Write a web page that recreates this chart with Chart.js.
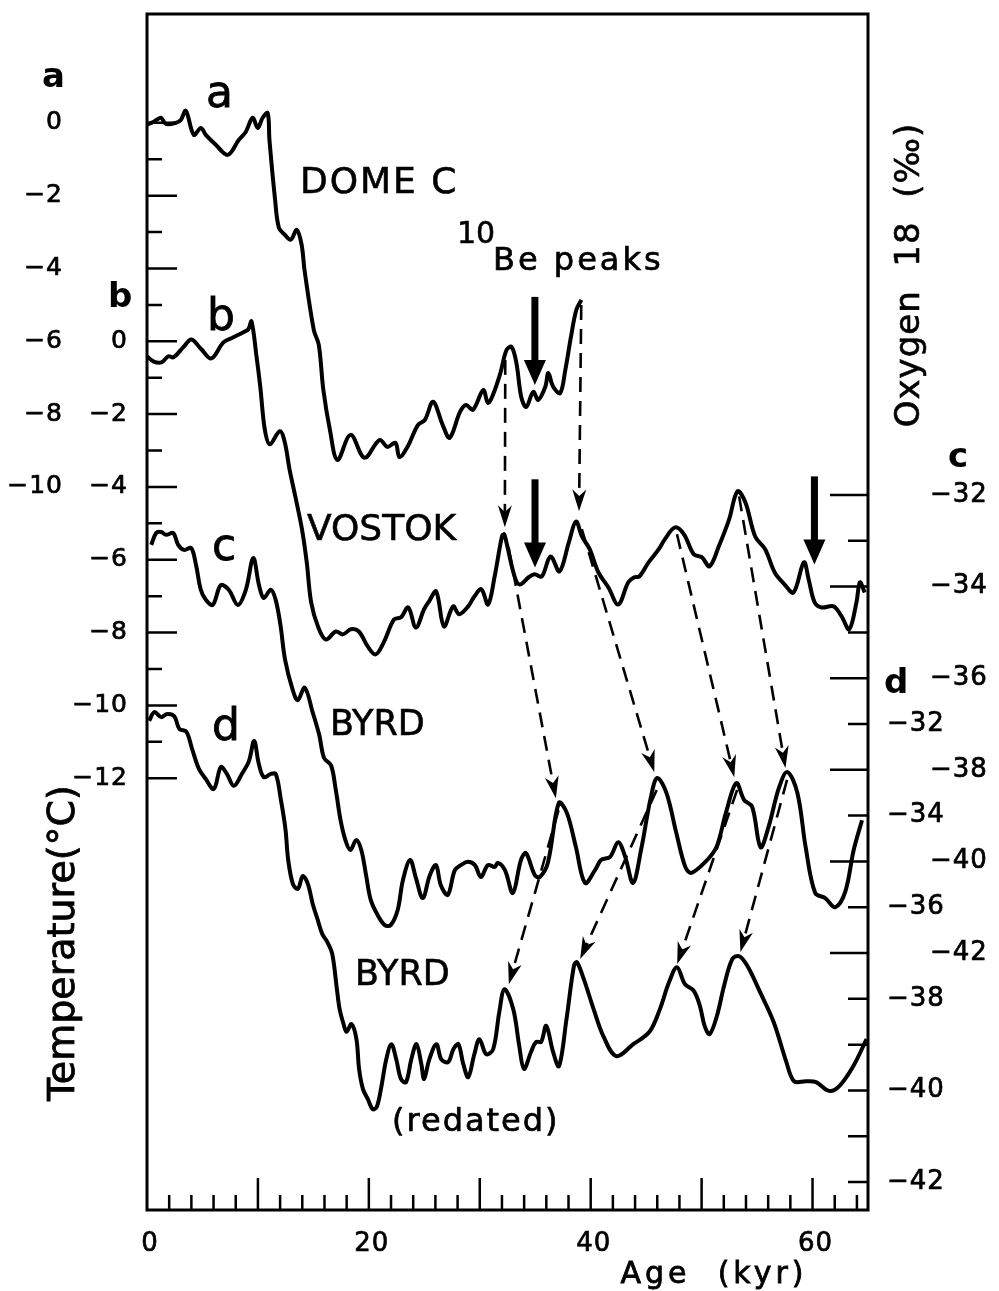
<!DOCTYPE html>
<html>
<head>
<meta charset="utf-8">
<script src="https://cdn.jsdelivr.net/npm/chart.js@4.4.1/dist/chart.umd.min.js"></script>
<style>
  body { margin: 0; background: #fff; }
  canvas { display: block; }
</style>
</head>
<body>
<canvas id="c" width="999" height="1291"></canvas>
<script>
// Dome C (a): temperature anomaly, degC
const domeAge = [0, 0.61, 1.25, 1.7, 2.6, 3.05, 3.5, 4.22, 4.85, 5.3,
  6.2, 7.28, 8.27, 8.9, 9.53, 9.98, 10.43, 10.88, 11.04, 11.55,
  11.89, 12.42, 12.96, 13.5, 13.94, 14.2, 15.04, 15.49, 15.9, 16.49,
  17.17, 18.35, 19.61, 20.96, 21.68, 22.4, 22.76, 23.48, 24.42, 25.05,
  25.79, 26.66, 27.29, 28.22, 28.76, 29.39, 30.31, 30.74, 31.19, 31.86,
  32.41, 32.86, 33.3, 33.74, 34.19, 34.82, 35.27, 35.91, 36.18, 36.62,
  37.25, 37.71, 38.22, 38.7, 39.16];
const domeTemp = [-0.05, 0.03, 0.14, -0.03, 0, 0.08, 0.33, -0.33, -0.14, -0.33,
  -0.6, -0.88, -0.47, -0.25, 0.14, -0.14, 0.14, 0.27, -0.47, -2.12,
  -2.88, -3.07, -3.21, -2.94, -3.35, -4.04, -5.69, -6.1, -7.34, -8.43,
  -9.26, -8.57, -9.2, -8.71, -8.9, -8.79, -9.18, -8.9, -8.3, -8.16,
  -7.66, -8.3, -8.65, -7.94, -7.75, -7.88, -7.34, -7.69, -7.47, -6.87,
  -6.24, -6.15, -6.59, -7.53, -7.8, -7.39, -7.61, -7.25, -6.87, -7.25,
  -7.42, -6.79, -5.88, -5.14, -4.86];

// Vostok (b): temperature anomaly, degC
const vostokAge = [0, 0.57, 1.3, 1.93, 2.38, 3.28, 4.0, 4.9, 5.8, 6.89,
  7.79, 8.69, 9.14, 9.42, 9.87, 10.21, 10.62, 11.07, 11.97, 12.42,
  12.85, 13.37, 13.97, 14.4, 14.8, 15.41, 16.12, 17.03, 17.66, 18.38,
  19.1, 19.9, 20.61, 21.34, 22.27, 22.9, 23.55, 24.24, 24.98, 25.43,
  26.07, 26.77, 27.6, 28.14, 28.96, 29.51, 30.14, 30.75, 31.34, 32.0,
  32.2, 32.4, 33.14, 33.6, 34.41, 34.95, 35.59, 36.38, 37.19, 38.03,
  38.67, 39.21, 39.91, 40.7, 41.6, 42.48, 43.39, 43.93, 44.38, 45.22,
  46.14, 46.68, 47.6, 48.41, 49.29, 50.01, 50.72, 51.55, 52.48, 53.23,
  53.94, 54.83, 55.73, 56.59, 57.49, 58.29, 59.22, 59.65, 60.19, 60.82,
  61.9, 62.61, 63.31, 63.96, 64.27, 64.7];
const vostokTemp = [-0.41, -0.55, -0.58, -0.41, -0.44, -0.16, 0.05, -0.22, -0.47, -0.03,
  0.11, 0.25, 0.33, 0.55, -0.41, -1.24, -2.42, -2.83, -2.47, -2.77,
  -3.52, -4.26, -5.16, -6.07, -7.17, -7.83, -8.19, -7.97, -8.05, -7.91,
  -7.97, -8.38, -8.6, -8.27, -7.64, -7.58, -7.31, -7.86, -7.36, -7.14,
  -6.87, -7.83, -7.28, -7.5, -7.28, -7.01, -6.81, -7.23, -6.46, -5.36,
  -5.3, -5.52, -6.46, -6.68, -6.48, -6.4, -6.46, -5.91, -6.32, -5.52,
  -4.95, -5.36, -5.71, -6.35, -6.76, -7.23, -6.62, -6.48, -6.46, -6.07,
  -5.71, -5.44, -5.11, -5.3, -5.85, -5.93, -6.18, -5.63, -4.89, -4.12,
  -4.42, -5.36, -5.71, -6.35, -6.68, -6.9, -6.07, -6.54, -7.17, -7.31,
  -7.28, -7.55, -7.91, -7.17, -6.62, -6.9];

// Byrd (c): oxygen 18, permil
const byrdAge = [0.38, 0.83, 1.28, 1.73, 2.36, 2.81, 3.35, 3.98, 4.42, 4.85,
  5.3, 5.93, 6.65, 7.37, 8.19, 8.91, 9.58, 10.1, 10.52, 11.16,
  11.6, 12.03, 12.45, 13.14, 13.59, 14.22, 14.93, 15.53, 15.96, 16.59,
  17.02, 17.45, 17.88, 18.33, 18.87, 19.32, 19.75, 20.17, 20.79, 21.43,
  21.97, 22.6, 23.07, 23.72, 24.24, 24.86, 25.5, 26.05, 26.49, 27.12,
  27.75, 28.3, 28.93, 29.56, 30.1, 30.73, 31.36, 31.63, 32.27, 32.98,
  33.71, 34.16, 34.97, 35.42, 36.14, 37.13, 37.85, 38.66, 39.49, 40.39,
  40.93, 41.75, 42.48, 43.11, 43.82, 44.54, 45.43, 46.0, 46.82, 47.72,
  48.53, 49.07, 50.34, 51.33, 52.19, 53.12, 53.84, 54.56, 55.31, 56.03,
  56.99, 57.73, 58.63, 59.38, 60.24, 61.14, 62.04, 62.94, 63.71, 64.46];
const byrdO18 = [-33.09, -32.83, -32.81, -32.87, -32.83, -33.09, -33.2, -33.16, -33.53, -34.07,
  -34.29, -34.4, -33.97, -34.07, -34.4, -34.07, -33.38, -33.97, -34.25, -34.07,
  -34.29, -34.84, -35.6, -36.26, -36.48, -36.21, -36.74, -37.24, -37.74, -37.9,
  -38.44, -39.1, -39.53, -39.75, -39.53, -39.75, -40.3, -40.84, -41.17, -41.39,
  -41.39, -41.06, -40.41, -39.97, -40.36, -40.8, -40.3, -40.08, -40.52, -40.73,
  -40.19, -40.08, -40.01, -40.08, -40.34, -40.08, -40.12, -40.03, -40.19, -40.69,
  -39.97, -39.82, -40.3, -40.34, -40.03, -38.72, -38.94, -39.68, -40.47, -40.19,
  -39.97, -39.9, -39.58, -39.9, -40.47, -39.75, -38.59, -38.18, -38.5, -39.38,
  -40.12, -40.25, -40.01, -39.69, -38.94, -38.29, -38.66, -38.81, -39.69, -39.25,
  -38.38, -38.05, -38.5, -39.69, -40.69, -40.8, -41.0, -40.67, -39.75, -39.1];

// Byrd redated (d): oxygen 18, permil
const byrdRedAge = [0.2, 0.66, 1.29, 1.83, 2.46, 2.92, 3.55, 4.07, 4.68, 5.3,
  6.02, 6.66, 7.2, 7.83, 8.55, 9.19, 9.66, 10.08, 10.53, 11.16,
  11.61, 12.06, 12.48, 12.72, 13.15, 13.6, 14.05, 14.5, 14.94, 15.37,
  15.81, 16.26, 16.7, 17.12, 17.37, 17.72, 17.99, 18.44, 18.88, 19.12,
  19.47, 19.91, 20.35, 20.71, 21.09, 21.57, 22.03, 22.47, 22.9, 23.35,
  23.83, 24.29, 24.73, 24.98, 25.45, 26.09, 26.53, 27.16, 27.62, 28.07,
  28.51, 28.96, 29.51, 29.97, 30.58, 31.21, 31.76, 32.23, 33.02, 33.56,
  33.99, 34.62, 35.08, 35.53, 35.99, 36.61, 37.14, 37.82, 38.49, 38.76,
  39.38, 40.27, 41.15, 42.3, 43.84, 45.3, 46.23, 47.06, 47.78, 48.5,
  49.31, 49.85, 50.27, 50.72, 51.37, 52.02, 52.77, 53.4, 54.12, 55.26,
  56.5, 57.64, 58.34, 59.42, 60.32, 61.49, 62.39, 63.67, 64.87];
const byrdRedO18 = [-31.93, -31.74, -31.85, -31.78, -31.83, -32.11, -32.17, -32.55, -32.98, -33.2,
  -33.42, -32.94, -33.09, -33.35, -33.09, -32.81, -32.37, -32.87, -33.16, -33.09,
  -33.09, -33.64, -34.29, -34.95, -35.49, -35.6, -35.32, -35.49, -35.93, -36.26,
  -36.59, -36.76, -37.02, -37.79, -38.23, -38.55, -38.72, -38.55, -38.88, -39.53,
  -39.97, -40.19, -40.41, -40.36, -39.97, -39.32, -38.99, -39.32, -39.75, -39.82,
  -39.32, -38.99, -39.42, -39.75, -39.32, -38.99, -39.32, -39.38, -39.1, -38.99,
  -39.42, -39.71, -39.21, -38.88, -39.21, -39.1, -38.29, -37.79, -38.23, -39.03,
  -39.53, -39.16, -38.94, -38.94, -38.59, -39.16, -39.47, -38.44, -37.28, -37.2,
  -37.57, -38.23, -38.82, -39.25, -38.99, -38.72, -38.23, -37.64, -37.31, -37.68,
  -37.83, -38.16, -38.59, -38.77, -38.38, -37.72, -37.13, -37.07, -37.28, -37.85,
  -38.51, -39.38, -39.8, -39.8, -39.82, -40.01, -39.91, -39.47, -38.88];

// axis tick labels
const ageTicks = [0, 20, 40, 60];
const domeTicks = [0, -2, -4, -6, -8, -10];
const vostokTicks = [0, -2, -4, -6, -8, -10, -12];
const byrdTicks = [-32, -34, -36, -38, -40, -42];
const byrdRedTicks = [-32, -34, -36, -38, -40, -42];

// dashed links between matching peaks: [age1, value1, axis1, age2, value2, axis2]
const peakLinks = [
  [32.3, -6.51, 'yA', 32.26, -5.11, 'yB'],
  [39.15, -5.0, 'yA', 38.95, -4.67, 'yB'],
  [32.6, -5.66, 'yB', 36.86, -38.62, 'yC'],
  [39.2, -5.16, 'yB', 45.73, -38.05, 'yC'],
  [47.78, -5.3, 'yB', 52.94, -38.16, 'yC'],
  [53.38, -4.26, 'yB', 57.56, -37.96, 'yC'],
  [37.1, -38.88, 'yC', 32.62, -37.68, 'yD'],
  [45.95, -38.44, 'yC', 39.05, -37.13, 'yD'],
  [53.2, -38.44, 'yC', 47.8, -37.24, 'yD'],
  [57.7, -38.22, 'yC', 53.5, -36.98, 'yD']
];
// 10Be peaks (bold arrows): [age, from, to, axis]
const bePeaks = [
  [34.97, -4.78, -7.2, 'yA'],
  [34.98, -3.79, -6.21, 'yB'],
  [60.17, -3.71, -6.13, 'yB']
];

const pts = (xs, ys) => xs.map((v, i) => ({ x: v, y: ys[i] }));
const minus = v => v === 0 ? '0' : (v < 0 ? '\u2212' + Math.abs(v) : String(v));

// text with a light outline so the lettering looks as heavy as the print
function text(ctx, s, x, y, font, align, base, spacing, heavy) {
  ctx.font = font;
  ctx.textAlign = align || 'left';
  ctx.textBaseline = base || 'alphabetic';
  ctx.letterSpacing = spacing || '0px';
  ctx.fillText(s, x, y);
  if (heavy) {
    ctx.lineWidth = heavy;
    ctx.setLineDash([]);
    ctx.strokeText(s, x, y);
  }
  ctx.letterSpacing = '0px';
}

function arrowHead(ctx, x1, y1, x2, y2, len, half) {
  const a = Math.atan2(y2 - y1, x2 - x1);
  const c = Math.cos(a), s = Math.sin(a);
  ctx.beginPath();
  ctx.moveTo(x2, y2);
  ctx.lineTo(x2 - len * c + half * s, y2 - len * s - half * c);
  ctx.lineTo(x2 - len * 0.7 * c, y2 - len * 0.7 * s);
  ctx.lineTo(x2 - len * c - half * s, y2 - len * s + half * c);
  ctx.closePath();
  ctx.fill();
}

const figure = {
  id: 'figure',
  afterDatasetsDraw(chart) {
    const { ctx, chartArea: ca, scales } = chart;
    const sx = scales.x;
    const F = '"DejaVu Sans"';
    ctx.save();
    ctx.strokeStyle = '#000';
    ctx.fillStyle = '#000';

    // frame
    ctx.lineWidth = 3;
    ctx.strokeRect(ca.left, ca.top, ca.right - ca.left, ca.bottom - ca.top);

    // ticks, all pointing inward
    ctx.lineWidth = 2.5;
    ctx.beginPath();
    for (let v = 0; v >= -18; v--) {
      const py = scales.yA.getPixelForValue(v);
      ctx.moveTo(ca.left, py);
      ctx.lineTo(ca.left + (v % 2 === 0 ? 30 : 15), py);
    }
    for (let v = -32; v >= -47; v--) {
      const py = scales.yC.getPixelForValue(v);
      ctx.moveTo(ca.right, py);
      ctx.lineTo(ca.right - (v % 2 === 0 && v >= -42 ? 38 : 20), py);
    }
    for (let v = 2; v <= 64; v += 2) {
      const px = sx.getPixelForValue(v);
      ctx.moveTo(px, ca.bottom);
      ctx.lineTo(px, ca.bottom - (v % 10 === 0 ? 32 : 15));
    }
    ctx.stroke();

    // tick labels
    domeTicks.forEach(v => text(ctx, minus(v), 63, scales.yA.getPixelForValue(v), '25px ' + F, 'right', 'middle', '1px', 0.7));
    vostokTicks.forEach(v => text(ctx, minus(v), 128, scales.yB.getPixelForValue(v), '25px ' + F, 'right', 'middle', '1px', 0.7));
    byrdTicks.forEach(v => text(ctx, minus(v), 930, scales.yC.getPixelForValue(v), '26px ' + F, 'left', 'middle', '1px', 0.7));
    byrdRedTicks.forEach(v => text(ctx, minus(v), 887, scales.yD.getPixelForValue(v), '26px ' + F, 'left', 'middle', '1px', 0.7));
    ageTicks.forEach(v => text(ctx, String(v), sx.getPixelForValue(v) + 3, 1251, '26px ' + F, 'center', 'alphabetic', '1px', 0.7));

    // axis letters
    text(ctx, 'a', 42, 87, 'bold 34px ' + F);
    text(ctx, 'b', 108, 307, 'bold 34px ' + F);
    text(ctx, 'c', 948, 467, 'bold 34px ' + F);
    text(ctx, 'd', 884, 693, 'bold 34px ' + F);

    // axis titles
    text(ctx, 'Age  (kyr)', 714, 1283, '30px ' + F, 'center', 'alphabetic', '4px', 0.8);
    ctx.save();
    ctx.translate(64, 943);
    ctx.rotate(-Math.PI / 2);
    text(ctx, 'Temperature(\u00B0C)', 0, 0, '38px ' + F, 'center', 'middle', '0px', 0.8);
    ctx.restore();
    ctx.save();
    ctx.translate(910, 275);
    ctx.rotate(-Math.PI / 2);
    text(ctx, 'Oxygen  18  (\u2030)', 0, 0, '34px ' + F, 'center', 'middle', '1px', 0.6);
    ctx.restore();

    // curve labels
    text(ctx, 'a', 206, 107, '44px ' + F, 'left', 'alphabetic', '0px', 0.8);
    text(ctx, 'b', 207, 330, '44px ' + F, 'left', 'alphabetic', '0px', 0.8);
    text(ctx, 'c', 212, 560, '44px ' + F, 'left', 'alphabetic', '0px', 0.8);
    text(ctx, 'd', 212, 740, '44px ' + F, 'left', 'alphabetic', '0px', 0.8);
    text(ctx, 'DOME C', 300, 193, '36px ' + F, 'left', 'alphabetic', '2px', 0.6);
    text(ctx, 'VOSTOK', 307, 540, '36px ' + F, 'left', 'alphabetic', '0px', 0.6);
    text(ctx, 'BYRD', 330, 735, '35px ' + F, 'left', 'alphabetic', '0px', 0.6);
    text(ctx, 'BYRD', 355, 985, '35px ' + F, 'left', 'alphabetic', '0px', 0.6);
    text(ctx, '(redated)', 392, 1131, '32px ' + F, 'left', 'alphabetic', '2px', 0.7);
    text(ctx, '10', 457, 243, '30px ' + F, 'left', 'alphabetic', '0px', 0.6);
    text(ctx, 'Be peaks', 493, 270, '32px ' + F, 'left', 'alphabetic', '3px', 0.7);

    // dashed peak links with arrow heads
    peakLinks.forEach(([a1, v1, ax1, a2, v2, ax2]) => {
      const x1 = sx.getPixelForValue(a1), y1 = scales[ax1].getPixelForValue(v1);
      const x2 = sx.getPixelForValue(a2), y2 = scales[ax2].getPixelForValue(v2);
      const d = Math.hypot(x2 - x1, y2 - y1);
      const ex = x2 - (x2 - x1) * 14 / d, ey = y2 - (y2 - y1) * 14 / d;
      ctx.lineWidth = 2.6;
      ctx.setLineDash([15, 9]);
      ctx.beginPath();
      ctx.moveTo(x1, y1);
      ctx.lineTo(ex, ey);
      ctx.stroke();
      ctx.setLineDash([]);
      arrowHead(ctx, x1, y1, x2, y2, 22, 7);
    });

    // bold 10Be arrows
    bePeaks.forEach(([age, v1, v2, ax]) => {
      const px = sx.getPixelForValue(age);
      const y1 = scales[ax].getPixelForValue(v1), y2 = scales[ax].getPixelForValue(v2);
      ctx.lineWidth = 7;
      ctx.beginPath();
      ctx.moveTo(px, y1);
      ctx.lineTo(px, y2 - 18);
      ctx.stroke();
      ctx.beginPath();
      ctx.moveTo(px, y2);
      ctx.lineTo(px - 11, y2 - 25);
      ctx.lineTo(px + 11, y2 - 25);
      ctx.closePath();
      ctx.fill();
    });
    ctx.restore();
  }
};

const line = (label, data, yAxisID) => ({
  label, data, yAxisID,
  borderColor: '#000', borderWidth: 4, pointRadius: 0,
  tension: 0.35, fill: false
});

new Chart(document.getElementById('c'), {
  type: 'line',
  data: {
    datasets: [
      line('DOME C', pts(domeAge, domeTemp), 'yA'),
      line('VOSTOK', pts(vostokAge, vostokTemp), 'yB'),
      line('BYRD', pts(byrdAge, byrdO18), 'yC'),
      line('BYRD (redated)', pts(byrdRedAge, byrdRedO18), 'yD')
    ]
  },
  options: {
    responsive: false,
    devicePixelRatio: 1,
    animation: false,
    layout: { padding: { left: 147, right: 131, top: 14, bottom: 81 } },
    plugins: { legend: { display: false }, tooltip: { enabled: false } },
    scales: {
      x: { type: 'linear', min: 0, max: 65, display: false },
      yA: { type: 'linear', position: 'left', min: -29.86, max: 2.99, display: false },
      yB: { type: 'linear', position: 'left', min: -23.86, max: 8.99, display: false },
      yC: { type: 'linear', position: 'right', min: -47.61, max: -21.5, display: false },
      yD: { type: 'linear', position: 'right', min: -42.61, max: -16.5, display: false }
    }
  },
  plugins: [figure]
});
</script>
</body>
</html>
